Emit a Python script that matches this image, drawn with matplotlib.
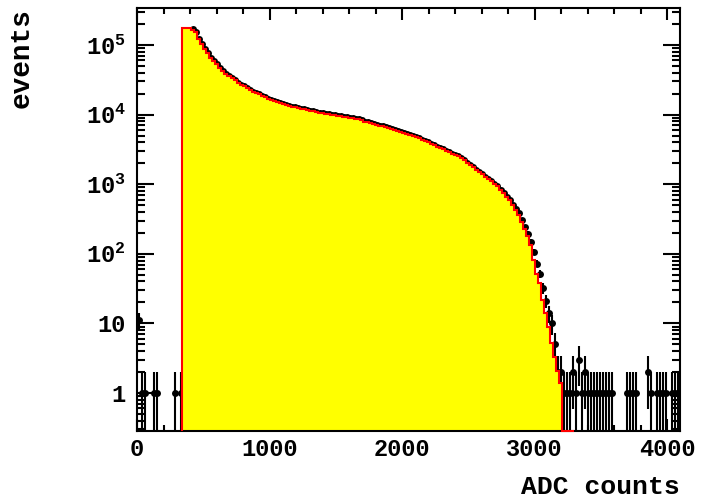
import numpy as np
import matplotlib
matplotlib.use("Agg")
import matplotlib.pyplot as plt
from matplotlib.ticker import FixedLocator, FixedFormatter, MultipleLocator, LogLocator, NullFormatter

plt.rcParams['font.family'] = ['Liberation Mono', 'DejaVu Sans Mono']
plt.rcParams['font.weight'] = 'bold'
plt.rcParams['mathtext.fontset'] = 'custom'
plt.rcParams['mathtext.rm'] = 'Liberation Mono:bold'
plt.rcParams['mathtext.bf'] = 'Liberation Mono:bold'
plt.rcParams['mathtext.it'] = 'Liberation Mono:bold'
plt.rcParams['mathtext.default'] = 'rm'

# ---------------- data ----------------
x_min, x_max, n_bins = 0, 4096, 180

# measured data (black points), counts per bin
data_counts = (
    [11, 1, 1, 0, 0, 1, 1, 0, 0, 0, 0, 0, 1, 0, 1,
     0, 0, 0,
     170000, 152000, 123000, 102300, 87100, 75900, 66100, 58900, 52500, 46800,
     41700, 38000, 35500, 33100, 30900, 28800, 26900, 25400, 24000, 22600,
     21400, 20400, 19500, 18400, 17600, 16800, 16200, 15700, 15100, 14800,
     14300, 13800, 13500, 13000, 12700, 12400, 12200, 11900, 11600, 11350,
     11200, 11000, 10700, 10500, 10350, 10100, 10000, 9770, 9660, 9440,
     9330, 9120, 9020, 8810, 8710, 8510, 8320, 7940, 7760, 7500,
     7330, 7160, 6920, 6760, 6530, 6380, 6170, 6030, 5820, 5620,
     5430, 5250, 5070, 4900, 4730, 4570, 4370, 4170, 3980, 3800,
     3630, 3470, 3310, 3160, 3020, 2880, 2750, 2630, 2510, 2340,
     2210, 2040, 1905, 1760, 1620, 1500, 1380, 1260, 1175, 1100,
     1020, 933, 832, 741, 661, 589, 501,
     440, 380, 305, 245, 195, 150, 105, 72, 52, 32, 21, 14, 10, 5, 2, 2,
     1, 1, 1, 2, 1, 3, 1, 2, 1, 1, 1, 1, 1, 1, 1, 1, 1,
     0, 0, 0, 0, 1, 1, 1, 1, 0, 0, 0, 2, 1, 0, 1, 1, 1, 1, 0, 1, 1, 1]
)

# simulated histogram (yellow, red outline), content per bin
mc_counts = (
    [0] * 15 +
    [174000, 174000, 174000, 166000, 152000, 123000, 102300, 87100, 75900, 66100,
     58900, 52500, 46800, 41700, 38000, 35500, 33100, 30900, 28800, 26900,
     25400, 24000, 22600, 21400, 20400, 19500, 18400, 17600, 16800, 16200,
     15700, 15100, 14800, 14300, 13800, 13500, 13000, 12700, 12400, 12200,
     11900, 11600, 11350, 11200, 11000, 10700, 10500, 10350, 10100, 10000,
     9770, 9660, 9440, 9330, 9120, 9020, 8810, 8710, 8510, 8320,
     7940, 7760, 7500, 7330, 7160, 6920, 6760, 6530, 6380, 6170,
     6030, 5820, 5620, 5430, 5250, 5070, 4900, 4730, 4570, 4370,
     4170, 3980, 3800, 3630, 3470, 3310, 3160, 3020, 2880, 2750,
     2630, 2510, 2340, 2210, 2040, 1905, 1760, 1620, 1500, 1380,
     1260, 1175, 1100, 1020, 933, 832, 741, 661, 589, 501,
     427, 363, 288, 229, 178, 132, 81, 52, 38, 22,
     14, 8.9, 5.2, 3.3, 2.1, 1.4,
     0.05, 0.05, 0.05, 0.05] +
    [0] * 35
)

x_major = [0, 1000, 2000, 3000, 4000]
x_labels = ['0', '1000', '2000', '3000', '4000']
y_major = [1, 10, 100, 1000, 10000, 100000]
y_labels = ['1', '10', r'$10^{2}$', r'$10^{3}$', r'$10^{4}$', r'$10^{5}$']
y_lo, y_hi = 0.284, 3.4e5

# ---------------- plot ----------------
edges = np.linspace(x_min, x_max, n_bins + 1)
centers = 0.5 * (edges[:-1] + edges[1:])
data = np.array(data_counts, dtype=float)
mc = np.array(mc_counts, dtype=float)

fig = plt.figure(figsize=(7.04, 5.0), dpi=100)
ax = fig.add_axes([0.1946, 0.138, 0.7713, 0.846])
ax.set_yscale('log')
ax.set_xlim(x_min, x_max)
ax.set_ylim(y_lo, y_hi)

m = data > 0
err = np.sqrt(data[m])
lo = np.maximum(data[m] - err, 1e-3)
hi = data[m] + err
ax.vlines(centers[m], lo, hi, colors='black', lw=1.5, zorder=1.2)
ax.plot(centers[m], data[m], 'o', color='black', ms=5, mew=0, zorder=1.3)

idx = np.nonzero(mc > 0)[0]
i0, i1 = idx[0], idx[-1]
vals = np.clip(mc[i0:i1 + 1], y_lo, None)
ax.stairs(vals, edges[i0:i1 + 2], baseline=y_lo, fill=True,
          facecolor='#ffff00', edgecolor='none', lw=0, zorder=1.6)
ax.stairs(vals, edges[i0:i1 + 2], baseline=y_lo, fill=False,
          color='#ff0000', lw=1.5, zorder=2.7, clip_on=False)

ax.set_axisbelow(True)
ax.xaxis.set_major_locator(FixedLocator(x_major))
ax.xaxis.set_major_formatter(FixedFormatter(x_labels))
ax.xaxis.set_minor_locator(MultipleLocator(200))
ax.yaxis.set_major_locator(FixedLocator(y_major))
ax.yaxis.set_major_formatter(FixedFormatter(y_labels))
ax.yaxis.set_minor_locator(LogLocator(base=10, subs=np.arange(2, 10), numticks=30))
ax.yaxis.set_minor_formatter(NullFormatter())

ax.tick_params(which='both', direction='in', top=True, right=True,
               width=1.5, color='black', labelsize=17)
ax.tick_params(axis='x', which='major', length=8.6, pad=5)
ax.tick_params(axis='x', which='minor', length=4.3)
ax.tick_params(axis='y', which='major', length=12.2, pad=8)
ax.tick_params(axis='y', which='minor', length=6.1)
for s in ax.spines.values():
    s.set_linewidth(1.5)

fig.text(22 / 704, 0.984, 'events', rotation=90, ha='center', va='top',
         fontsize=20, fontweight='bold')
fig.text(680 / 704, 0.002, 'ADC counts', ha='right', va='bottom',
         fontsize=19, fontweight='bold')

fig.savefig('out.png', dpi=100)
